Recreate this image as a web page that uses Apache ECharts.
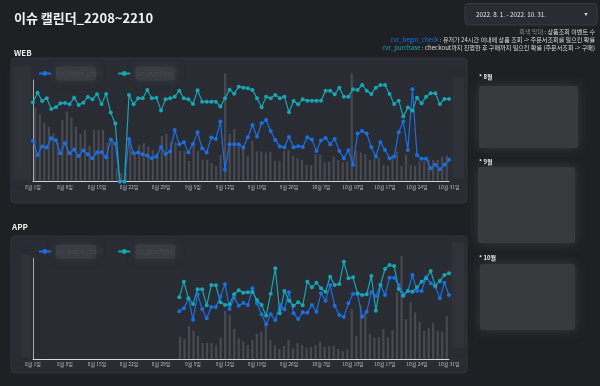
<!DOCTYPE html>
<html><head><meta charset="utf-8">
<script src="https://cdn.jsdelivr.net/npm/echarts@6/dist/echarts.min.js"></script>
<style>html,body{margin:0;padding:0;background:#1f2024;}#c{width:600px;height:386px;}</style>
</head><body><div id="c"></div>
<script>
// ---------- categories ----------
const months = [{m: 8, n: 31}, {m: 9, n: 30}, {m: 10, n: 31}];
const days = [];
months.forEach(o => { for (let d = 1; d <= o.n; d++) days.push(o.m + '월 ' + d + '일'); });

const seriesNames = ['cvr_begin_check', 'cvr_purchase'];
const barName = '상품조회 이벤트 수';

// ---------- WEB (8/1 ~ 10/31) ----------
const webPurchase = [23.8,26.7,24.2,25.0,21.8,22.3,23.5,23.6,23.2,25.2,
 23.0,23.7,25.4,24.7,26.2,23.3,26.3,20.7,17.4,0,
 0,26.0,23.2,25.0,25.0,27.5,25.0,25.2,21.3,24.7,
 25.0,25.5,27.3,25.0,24.7,23.3,27.4,24.0,24.0,24.0,
 24.0,22.5,25.0,27.6,26.4,28.5,28.2,28.0,27.5,25.0,
 22.3,25.5,25.0,26.0,25.0,25.5,20.8,24.2,23.2,24.7,
 24.3,24.3,24.3,24.3,27.3,27.3,26.2,28.2,25.5,25.5,
 27.7,27.5,29.0,27.3,26.3,28.2,29.0,29.0,26.3,23.3,
 24.3,19.5,22.2,21.3,25.2,23.5,25.5,26.5,26.5,23.3,
 24.8,24.8];
const webBegin = [12.2,8.0,10.5,10.2,13.0,12.4,8.5,11.5,8.5,9.6,
 7.7,9.3,8.2,7.0,8.7,8.8,7.3,12.6,11.3,0,
 0,12.8,8.5,8.7,8.2,7.8,7.0,7.5,10.3,8.3,
 9.0,15.5,11.2,11.8,8.7,11.3,14.8,10.0,8.7,13.2,
 12.8,18.0,3.5,11.2,11.2,11.2,10.2,13.3,17.0,13.5,
 17.5,18.5,15.2,12.5,10.5,10.3,13.4,10.3,10.6,10.4,
 13.3,12.6,9.2,12.3,13.1,11.2,12.8,9.2,7.0,9.4,
 5.0,14.4,15.2,14.4,10.4,7.5,11.8,9.5,7.0,7.5,
 14.8,18.0,9.5,27.7,8.0,6.8,6.8,4.0,5.0,3.7,
 5.0,6.5];
const webViews = [22.2,20.2,17.7,16.5,14.5,11.8,18.5,21.0,19.2,16.5,
 14.3,15.5,10.8,15.5,15.5,15.5,11.8,13.0,4.0,2.5,
 2.8,12.5,8.5,11.0,11.5,10.5,9.5,8.5,13.7,14.3,
 12.0,11.8,9.2,9.2,6.2,11.7,9.2,6.5,6.5,5.5,
 4.7,8.0,32.5,14.3,15.8,11.5,10.5,7.7,12.2,9.0,
 9.0,8.7,9.0,6.2,6.2,9.2,9.4,7.7,7.0,6.5,
 5.0,5.0,8.2,8.0,5.8,5.9,7.5,6.5,5.8,6.0,
 32.5,9.2,8.7,8.2,6.5,6.8,7.2,5.0,4.7,8.0,
 9.0,4.7,8.0,5.0,4.7,6.0,6.2,6.5,6.5,6.5,
 7.5,7.8];

// ---------- APP (data from 9/2 = index 32) ----------
const appStart = 32;
const appPurchase = [18.5,23.2,18.2,16.5,20.9,20.9,16.1,22.2,22.1,17.0,
 16.2,16.4,19.4,20.6,19.9,20.0,20.1,17.7,16.2,13.0,
 19.6,27.2,13.7,20.4,17.5,16.0,17.0,16.1,23.2,21.5,
 22.9,21.2,20.2,24.7,22.2,22.5,29.2,24.2,24.5,19.7,
 19.2,19.4,24.9,14.5,22.2,27.0,28.2,27.9,21.0,19.0,
 20.4,20.2,21.5,23.2,24.2,26.4,22.0,23.4,25.2,25.7];
const appBegin = [14.3,15.2,18.1,11.8,19.4,15.0,12.2,15.6,15.6,18.7,
 22.4,15.0,18.4,16.0,16.8,16.2,21.2,16.7,13.4,10.4,
 13.4,11.7,16.2,14.9,20.0,13.7,12.0,14.0,13.9,16.2,
 14.2,19.7,17.5,22.2,16.0,13.2,12.6,16.7,19.5,19.5,
 12.7,14.2,20.0,18.9,22.2,19.2,24.4,24.4,22.2,19.4,
 20.4,25.2,20.4,20.4,24.5,22.7,21.7,18.2,22.9,19.2];
const appViews = [6.7,6.0,9.9,8.4,6.9,4.8,4.8,4.8,4.2,6.4,
 14.4,13.2,9.1,6.2,5.2,4.2,5.7,7.5,8.2,10.2,
 5.7,4.0,3.0,3.9,5.7,3.2,4.8,4.2,3.4,3.6,
 4.2,5.2,3.6,3.8,4.0,3.0,2.4,2.8,15.0,6.9,
 16.2,14.2,7.5,6.4,6.6,9.0,6.6,8.7,20.0,30.9,
 11.9,17.0,14.0,11.1,8.4,9.2,10.8,8.4,8.2,12.9];

const pad = arr => new Array(appStart).fill(null).concat(arr);

// ---------- texts ----------
const titleText = '이슈 캘린더_2208~2210';
const dateRange = '2022. 8. 1. - 2022. 10. 31.';
const noteLines = [
  ['회색 막대', ' : 상품조회 이벤트 수'],
  ['cvr_begin_check', ' : 유저가 24시간 이내에 상품 조회 -> 주문서조회를 일으킨 확률'],
  ['cvr_purchase', ' : checkout까지 진행한 후 구매까지 일으킨 확률 (주문서조회 -> 구매)']
];
const monthNotes = ['* 8월', '* 9월', '* 10월'];

const F = '"Noto Sans CJK KR", "Noto Sans", sans-serif';
const BLUE = '#1b6fe0', TEAL = '#17a6b3';
const BAR = 'rgba(120,121,128,0.38)';

const chart = echarts.init(document.getElementById('c'), null, {renderer: 'canvas'});

function xCat(grid, show) {
  return {
    type: 'category', gridIndex: grid, data: days, boundaryGap: !show,
    show: show,
    axisLine: {show: true, lineStyle: {color: '#d9d9d9', width: 1}},
    axisTick: {show: false},
    axisLabel: {interval: 6, fontSize: 5, color: '#bdbdbd', margin: 3, fontFamily: F},
    splitLine: {show: false}
  };
}
function yVal(grid, max) {
  return {
    type: 'value', gridIndex: grid, min: 0, max: max,
    axisLine: {show: true, lineStyle: {color: '#bcbcbc', width: 1}},
    axisTick: {show: false}, axisLabel: {show: false}, splitLine: {show: false}
  };
}
function lineS(name, color, xi, yi, data) {
  return {
    name: name, type: 'line', xAxisIndex: xi, yAxisIndex: yi, data: data,
    symbol: 'circle', symbolSize: 4, showAllSymbol: true, z: 5,
    lineStyle: {color: color, width: 1.2}, itemStyle: {color: color},
    connectNulls: false, animation: false
  };
}
function barS(xi, yi, data) {
  return {
    name: barName, type: 'bar', xAxisIndex: xi, yAxisIndex: yi, data: data,
    barWidth: 2.2, clip: false, itemStyle: {color: BAR}, z: 2, animation: false, silent: true
  };
}
function legendAt(top) {
  return {
    data: seriesNames, left: 33, top: top, itemWidth: 12, itemHeight: 6, itemGap: 14,
    selectedMode: false,
    textStyle: {
      fontSize: 6, fontFamily: F, color: 'rgba(150,152,160,0.15)',
      backgroundColor: 'rgba(60,62,70,0.8)', width: 40, height: 14, borderRadius: 2,
      shadowBlur: 8, shadowColor: 'rgba(60,62,70,0.9)'
    }
  };
}
function blur(x, y, w, h, fill, sb) {
  return {type: 'rect', z: 1, shape: {x: x, y: y, width: w, height: h, r: 2},
    style: {fill: fill, shadowBlur: sb || 8, shadowColor: fill}};
}

const graphics = [
  // panels
  {type: 'rect', z: 0, shape: {x: 11, y: 58, width: 456, height: 145, r: 4}, style: {fill: '#2a2c34', stroke: '#32343c'}},
  {type: 'rect', z: 0, shape: {x: 11, y: 236, width: 456, height: 137, r: 4}, style: {fill: '#2a2c34', stroke: '#32343c'}},
  // blurred axis label areas
  blur(14, 66, 17, 114, 'rgba(50,52,60,0.7)'),
  blur(453, 78, 11, 100, 'rgba(50,52,60,0.7)'),
  blur(21, 255, 10, 102, 'rgba(50,52,60,0.7)'),
  blur(452, 242, 12, 106, 'rgba(50,52,60,0.7)'),
  // title
  {type: 'text', z: 3, x: 14, y: 18.5, style: {text: titleText, fontSize: 13, fontWeight: 'bold', fontFamily: F, fill: '#f2f2f2', verticalAlign: 'middle'}},
  {type: 'text', z: 3, x: 14, y: 52.5, style: {text: 'WEB', fontSize: 8, fontWeight: 'bold', fontFamily: F, fill: '#f0f0f0', verticalAlign: 'middle'}},
  {type: 'text', z: 3, x: 12, y: 227, style: {text: 'APP', fontSize: 8, fontWeight: 'bold', fontFamily: F, fill: '#f0f0f0', verticalAlign: 'middle'}},
  // date selector
  {type: 'rect', z: 1, shape: {x: 465, y: 3.5, width: 132, height: 21.5, r: 3}, style: {fill: '#2a2c33', stroke: '#383a42'}},
  {type: 'text', z: 3, x: 476, y: 14.5, style: {text: dateRange, fontSize: 6.3, fontFamily: F, fill: '#e6e6e6', verticalAlign: 'middle'}},
  {type: 'text', z: 3, x: 586, y: 14.5, style: {text: '▾', fontSize: 6, fontFamily: 'DejaVu Sans', fill: '#e6e6e6', align: 'center', verticalAlign: 'middle'}},
];
// notes
const noteColors = ['#8a8a8a', BLUE, TEAL];
const noteY = [31.7, 40, 47.7];
noteLines.forEach((ln, i) => {
  graphics.push({type: 'text', z: 3, x: 595, y: noteY[i], style: {
    text: '{k|' + ln[0] + '}' + ln[1], fontSize: 6.1, fontFamily: F, fill: '#dcdcdc',
    align: 'right', verticalAlign: 'middle',
    rich: {k: {fill: noteColors[i], fontSize: 6.1, fontFamily: F}}
  }});
});
// month notes (blurred boxes)
const mY = [77, 162, 258];
const boxes = [[479, 86, 99, 62], [478, 167, 97, 76], [480, 264, 95, 66]];
monthNotes.forEach((t, i) => {
  graphics.push({type: 'text', z: 3, x: 479, y: mY[i], style: {text: t, fontSize: 6, fontWeight: 'bold', fontFamily: F, fill: '#e8e8e8', verticalAlign: 'middle'}});
  const b = boxes[i];
  graphics.push(blur(b[0], b[1], b[2], b[3], '#38393d', 12));
});

chart.setOption({
  backgroundColor: '#1f2024',
  animation: false,
  textStyle: {fontFamily: F},
  grid: [
    {left: 33, right: 151, top: 80, height: 101.5},
    {left: 33, right: 151, top: 258.3, height: 100.7}
  ],
  legend: [legendAt(61.5), legendAt(239.5)],
  xAxis: [xCat(0, true), xCat(0, false), xCat(1, true), xCat(1, false)],
  yAxis: [yVal(0, 30.5), yVal(1, 30.2)],
  series: [
    barS(1, 0, webViews),
    lineS(seriesNames[0], BLUE, 0, 0, webBegin),
    lineS(seriesNames[1], TEAL, 0, 0, webPurchase),
    barS(3, 1, pad(appViews)),
    lineS(seriesNames[0], BLUE, 2, 1, pad(appBegin)),
    lineS(seriesNames[1], TEAL, 2, 1, pad(appPurchase))
  ],
  graphic: {elements: graphics}
});
</script></body></html>
